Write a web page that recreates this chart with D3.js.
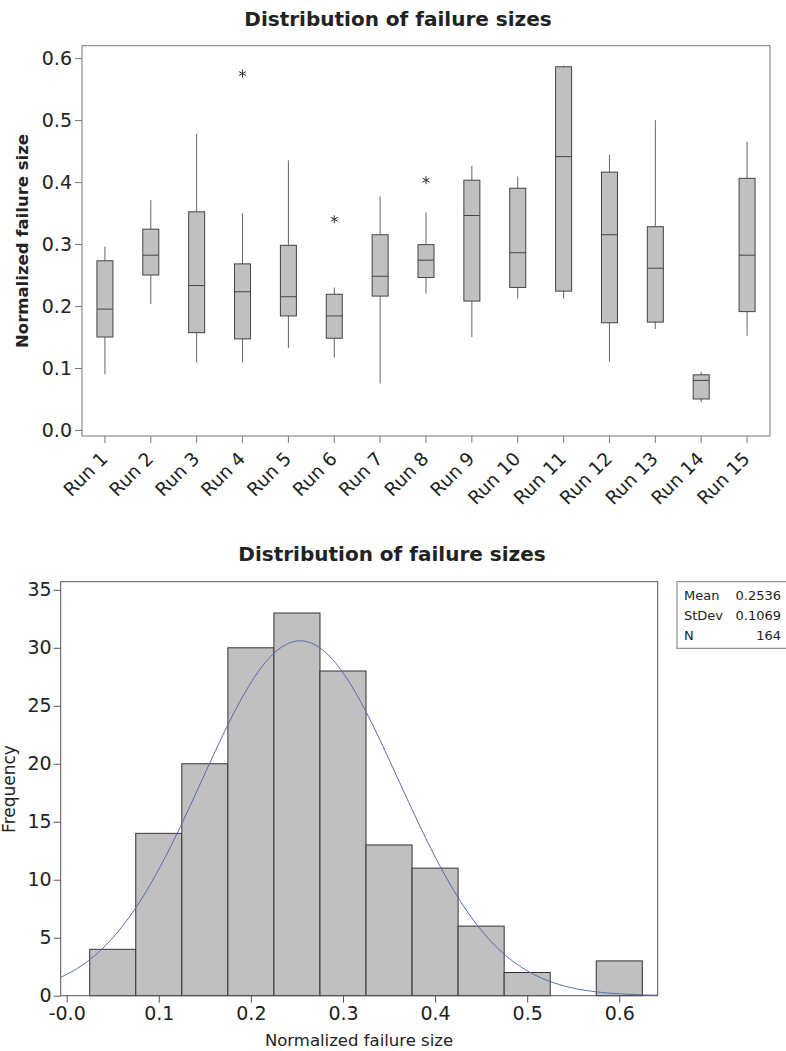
<!DOCTYPE html>
<html>
<head>
<meta charset="utf-8">
<script src="https://cdn.jsdelivr.net/npm/d3@7"></script>
<style>
  body { margin: 0; background: #fff; }
  text { font-family: "DejaVu Sans", Verdana, sans-serif; fill: #222; }
</style>
</head>
<body>
<div id="chart"></div>
<script>
// Box plot data
const runs = ["Run 1", "Run 2", "Run 3", "Run 4", "Run 5", "Run 6", "Run 7", "Run 8",
  "Run 9", "Run 10", "Run 11", "Run 12", "Run 13", "Run 14", "Run 15"];
const whiskerLow = [0.090, 0.203, 0.109, 0.109, 0.132, 0.117, 0.075, 0.220, 0.150, 0.212, 0.212, 0.110, 0.163, 0.045, 0.152];
const q1 = [0.150, 0.250, 0.157, 0.147, 0.184, 0.148, 0.216, 0.246, 0.208, 0.230, 0.224, 0.173, 0.174, 0.050, 0.191];
const median = [0.195, 0.282, 0.233, 0.223, 0.215, 0.184, 0.248, 0.274, 0.346, 0.286, 0.441, 0.315, 0.261, 0.080, 0.282];
const q3 = [0.273, 0.324, 0.352, 0.268, 0.298, 0.219, 0.315, 0.299, 0.403, 0.390, 0.586, 0.416, 0.328, 0.089, 0.406];
const whiskerHigh = [0.296, 0.371, 0.478, 0.350, 0.435, 0.230, 0.377, 0.351, 0.426, 0.409, 0.588, 0.444, 0.500, 0.094, 0.465];
const outliers = [{ run: "Run 4", value: 0.575 }, { run: "Run 6", value: 0.340 }, { run: "Run 8", value: 0.403 }];
const boxTicks = [0.0, 0.1, 0.2, 0.3, 0.4, 0.5, 0.6];

// Histogram data
const binStart = [0.025, 0.075, 0.125, 0.175, 0.225, 0.275, 0.325, 0.375, 0.425, 0.475, 0.525, 0.575];
const binCount = [4, 14, 20, 30, 33, 28, 13, 11, 6, 2, 0, 3];
const binWidth = 0.05;
const histXTicks = [0.0, 0.1, 0.2, 0.3, 0.4, 0.5, 0.6];
const histYTicks = [0, 5, 10, 15, 20, 25, 30, 35];
const statLabels = ["Mean", "StDev", "N"];
const statValues = ["0.2536", "0.1069", "164"];
const mean = 0.2536, stdev = 0.1069, n = 164;

const svg = d3.select("#chart").append("svg")
  .attr("width", 786)
  .attr("height", 1051);

// ---------- Box plot ----------
const bx = d3.scaleBand().domain(runs).range([82, 770]).padding(0);
const by = d3.scaleLinear().domain([-0.0097, 0.62]).range([436, 45.7]);
const boxW = 16;

svg.append("text")
  .attr("x", 398).attr("y", 26)
  .attr("text-anchor", "middle")
  .style("font-size", "20px").style("font-weight", "bold")
  .text("Distribution of failure sizes");

svg.append("rect")
  .attr("x", 82).attr("y", 45.7)
  .attr("width", 688).attr("height", 390.3)
  .attr("fill", "none").attr("stroke", "#777");

// y axis
const yAxis = svg.append("g")
  .attr("transform", "translate(82,0)")
  .call(d3.axisLeft(by).tickValues(boxTicks).tickFormat(d3.format(".1f")).tickSize(7).tickPadding(3));
yAxis.select(".domain").remove();
yAxis.selectAll("line").attr("stroke", "#777");
yAxis.selectAll("text").style("font-size", "19px").style("font-family", "DejaVu Sans").attr("fill", "#222");

// x axis
const xAxis = svg.append("g")
  .attr("transform", "translate(0,436)")
  .call(d3.axisBottom(bx).tickSize(7));
xAxis.select(".domain").remove();
xAxis.selectAll("line").attr("stroke", "#777");
xAxis.selectAll("text")
  .style("font-size", "18.5px").style("font-family", "DejaVu Sans").attr("fill", "#222")
  .attr("text-anchor", "end")
  .attr("transform", "translate(-6,14) rotate(-45)")
  .attr("dy", "0.75em")
  .attr("y", 0).attr("x", 0);

svg.append("text")
  .attr("transform", "translate(28,241) rotate(-90)")
  .attr("text-anchor", "middle")
  .style("font-size", "16.5px").style("font-weight", "bold")
  .text("Normalized failure size");

const boxes = svg.append("g").selectAll("g")
  .data(runs)
  .enter().append("g");

const cx = d => bx(d) + bx.bandwidth() / 2;

// whiskers
boxes.append("line")
  .attr("x1", cx).attr("x2", cx)
  .attr("y1", (d, i) => by(q3[i])).attr("y2", (d, i) => by(whiskerHigh[i]))
  .attr("stroke", "#666");
boxes.append("line")
  .attr("x1", cx).attr("x2", cx)
  .attr("y1", (d, i) => by(q1[i])).attr("y2", (d, i) => by(whiskerLow[i]))
  .attr("stroke", "#666");

boxes.append("rect")
  .attr("x", d => cx(d) - boxW / 2)
  .attr("y", (d, i) => by(q3[i]))
  .attr("width", boxW)
  .attr("height", (d, i) => by(q1[i]) - by(q3[i]))
  .attr("fill", "#c0c0c0")
  .attr("stroke", "#444");

boxes.append("line")
  .attr("x1", d => cx(d) - boxW / 2).attr("x2", d => cx(d) + boxW / 2)
  .attr("y1", (d, i) => by(median[i])).attr("y2", (d, i) => by(median[i]))
  .attr("stroke", "#444");

// outliers as asterisks
svg.append("g").selectAll("path")
  .data(outliers)
  .enter().append("path")
  .attr("transform", d => `translate(${cx(d.run)},${by(d.value)})`)
  .attr("d", "M0,-4V4M-3.5,-2L3.5,2M-3.5,2L3.5,-2")
  .attr("stroke", "#333")
  .attr("stroke-width", 1);

// ---------- Histogram ----------
const hx = d3.scaleLinear().domain([-0.0065, 0.6417]).range([60.7, 657.7]);
const hy = d3.scaleLinear().domain([0, 35.7]).range([995.7, 581.7]);

svg.append("text")
  .attr("x", 392).attr("y", 561)
  .attr("text-anchor", "middle")
  .style("font-size", "20px").style("font-weight", "bold")
  .text("Distribution of failure sizes");

svg.append("g").selectAll("rect")
  .data(binCount)
  .enter().append("rect")
  .attr("x", (d, i) => hx(binStart[i]))
  .attr("y", d => hy(d))
  .attr("width", (d, i) => hx(binStart[i] + binWidth) - hx(binStart[i]))
  .attr("height", d => hy(0) - hy(d))
  .attr("fill", "#c0c0c0")
  .attr("stroke", d => d > 0 ? "#333" : "none");

// fitted normal curve
const curveX = d3.range(-0.0065, 0.6418, 0.002);
const curveLine = d3.line()
  .x(d => hx(d))
  .y(d => hy(n * binWidth / (stdev * Math.sqrt(2 * Math.PI)) * Math.exp(-0.5 * Math.pow((d - mean) / stdev, 2))));
svg.append("path")
  .datum(curveX)
  .attr("d", curveLine)
  .attr("fill", "none")
  .attr("stroke", "#5868b0")
  .attr("stroke-width", 1);

svg.append("rect")
  .attr("x", 60.7).attr("y", 581.7)
  .attr("width", 597).attr("height", 414)
  .attr("fill", "none").attr("stroke", "#555");

const hyAxis = svg.append("g")
  .attr("transform", "translate(60.7,0)")
  .call(d3.axisLeft(hy).tickValues(histYTicks).tickSize(7).tickPadding(2));
hyAxis.select(".domain").remove();
hyAxis.selectAll("line").attr("stroke", "#555");
hyAxis.selectAll("text").style("font-size", "19px").style("font-family", "DejaVu Sans").attr("fill", "#222");

const hxAxis = svg.append("g")
  .attr("transform", "translate(0,995.7)")
  .call(d3.axisBottom(hx).tickValues(histXTicks)
    .tickFormat(d => d === 0 ? "-0.0" : d3.format(".1f")(d)).tickSize(7).tickPadding(4));
hxAxis.select(".domain").remove();
hxAxis.selectAll("line").attr("stroke", "#555");
hxAxis.selectAll("text").style("font-size", "19px").style("font-family", "DejaVu Sans").attr("fill", "#222");

svg.append("text")
  .attr("x", 359).attr("y", 1046)
  .attr("text-anchor", "middle")
  .style("font-size", "16.5px")
  .text("Normalized failure size");

svg.append("text")
  .attr("transform", "translate(15,789) rotate(-90)")
  .attr("text-anchor", "middle")
  .style("font-size", "17px")
  .text("Frequency");

// stats box
svg.append("rect")
  .attr("x", 677).attr("y", 581.7)
  .attr("width", 130).attr("height", 66.6)
  .attr("fill", "#fff").attr("stroke", "#777");

const stats = svg.append("g").selectAll("g")
  .data(statLabels)
  .enter().append("g")
  .attr("transform", (d, i) => `translate(0,${600 + i * 20})`);
stats.append("text")
  .attr("x", 684).attr("y", 0)
  .style("font-size", "13px")
  .text(d => d);
stats.append("text")
  .attr("x", 781).attr("y", 0)
  .attr("text-anchor", "end")
  .style("font-size", "13px")
  .text((d, i) => statValues[i]);
</script>
</body>
</html>
